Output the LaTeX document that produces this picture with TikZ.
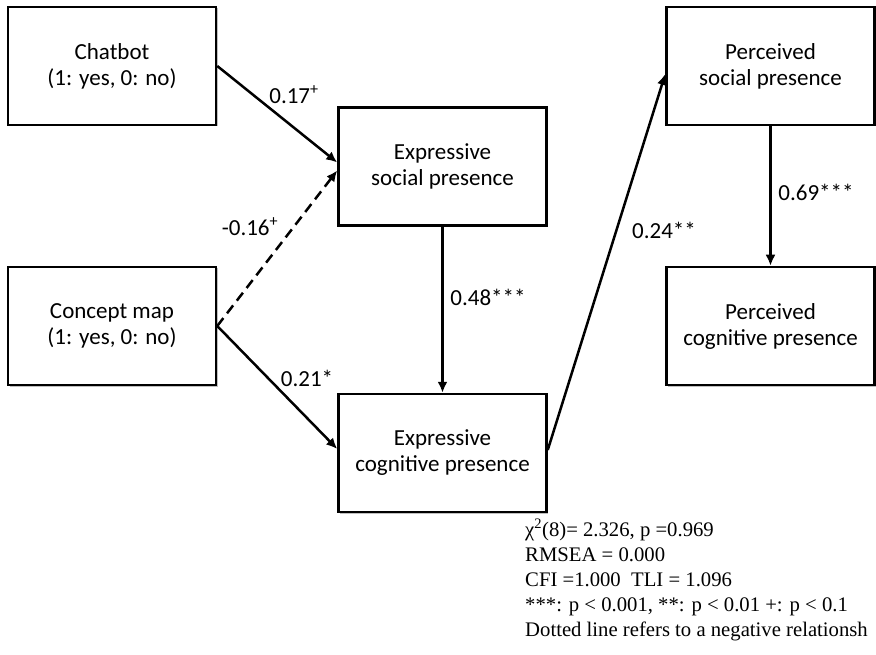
\documentclass[tikz,border=0pt]{standalone}
\usepackage{fontspec}
\setmainfont{Carlito}
\newfontfamily\statfont{Liberation Serif}
\usetikzlibrary{arrows.meta,shadows}

\begin{document}
\begin{tikzpicture}[x=1pt,y=-1pt,
  box/.style={draw, line width=2.5pt, minimum width=208pt, minimum height=118pt,
    align=center, font=\fontsize{23}{26}\selectfont, fill=white,
    drop shadow={shadow xshift=1.5pt, shadow yshift=-1.5pt, opacity=0.25, fill=black}},
  link/.style={line width=2.5pt, -{Latex[length=11pt,width=10pt]}},
  lbl/.style={font=\fontsize{23}{26}\selectfont, inner sep=0pt},
  stat/.style={font=\statfont\fontsize{20.7}{25}\selectfont, align=left, inner sep=0pt, anchor=north west}]
\useasboundingbox (0,0) rectangle (876,655);

% variables
\node[box] (chat) at (112,66)  {Chatbot\\(1: yes, 0: no)};
\node[box] (cmap) at (112,326) {Concept map\\(1: yes, 0: no)};
\node[box] (es)   at (442.5,166.5) {Expressive\\social presence};
\node[box] (ec)   at (442.5,453) {Expressive\\cognitive presence};
\node[box] (ps)   at (770.5,66)  {Perceived\\social presence};
\node[box] (pc)   at (770.5,326) {Perceived\\cognitive presence};

% paths
\draw[link] (chat.east) -- ([yshift=4pt]es.west);
\draw[link, dashed, dash pattern=on 10pt off 6pt] (cmap.east) -- ([yshift=-4pt]es.west);
\draw[link] (cmap.east) -- ([yshift=4pt]ec.west);
\draw[link] (es.south) -- (ec.north);
\draw[link] ([yshift=3pt]ec.east) -- ([yshift=-8pt]ps.west);
\draw[link] (ps.south) -- (pc.north);

% coefficients
\node[lbl] (l1) at (294,95)  {0.17\textsuperscript{+}};
\node[lbl] (l2) at (250,227) {-0.16\textsuperscript{+}};
\node[lbl] (l3) at (307,378) {0.21*};
\node[lbl] (l4) at (488,297) {0.48***};
\node[lbl] (l5) at (664,230) {0.24**};
\node[lbl] (l6) at (816,192) {0.69***};

% fit statistics
\node[stat] (fit) at (525,519) {χ\textsuperscript{2}(8)= 2.326, p =0.969\\
RMSEA = 0.000\\
CFI =1.000~~TLI = 1.096\\
***: p < 0.001, **: p < 0.01 +: p < 0.1\\
Dotted line refers to a negative relationsh};
\end{tikzpicture}
\end{document}
